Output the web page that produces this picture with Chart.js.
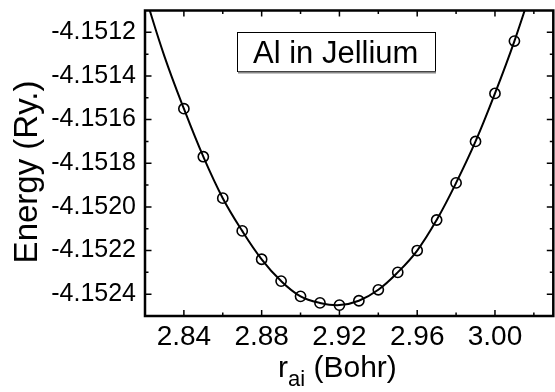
<!DOCTYPE html>
<html>
<head>
<meta charset="utf-8">
<script src="https://cdn.jsdelivr.net/npm/chart.js@4.4.0/dist/chart.umd.min.js"></script>
<style>
  html, body { margin: 0; padding: 0; overflow: hidden; background: #fff; }
  #chart { display: block; }
</style>
</head>
<body>
<canvas id="chart" width="560" height="392"></canvas>
<script>
// Computed points (circles)
const radii = [2.84, 2.85, 2.86, 2.87, 2.88, 2.89, 2.90, 2.91, 2.92,
               2.93, 2.94, 2.95, 2.96, 2.97, 2.98, 2.99, 3.00, 3.01];
const energies = [-4.15155, -4.15177, -4.15196, -4.15211, -4.15224, -4.15234,
                  -4.15241, -4.15244, -4.15245, -4.15243, -4.15238, -4.15230,
                  -4.15220, -4.15206, -4.15189, -4.15170, -4.15148, -4.15124];

// Fitted curve (solid line)
const fitRadii = [2.82, 2.83, 2.84, 2.85, 2.86, 2.87, 2.88, 2.89, 2.90, 2.91, 2.92,
                  2.93, 2.94, 2.95, 2.96, 2.97, 2.98, 2.99, 3.00, 3.01, 3.02];
const fitEnergies = [-4.15103, -4.15131, -4.15155, -4.15177, -4.15196, -4.15211,
                     -4.15224, -4.15234, -4.15241, -4.15244, -4.15245, -4.15243,
                     -4.15238, -4.15230, -4.15220, -4.15206, -4.15189, -4.15170,
                     -4.15148, -4.15124, -4.15097];

const xTicks = [2.84, 2.88, 2.92, 2.96, 3.00];
const yTicks = [-4.1524, -4.1522, -4.1520, -4.1518, -4.1516, -4.1514, -4.1512];

const FONT = '"Liberation Sans", Arial, sans-serif';

// Frame, inward ticks, label box and axis titles
const framePlugin = {
  id: 'frame',
  afterDraw(chart) {
    const ctx = chart.ctx;
    const area = chart.chartArea;
    const xs = chart.scales.x;
    const ys = chart.scales.y;
    ctx.save();
    ctx.strokeStyle = '#000';

    // ticks (major at labels, minor halfway)
    ctx.lineWidth = 1.5;
    const xStep = xTicks[1] - xTicks[0];
    const yStep = yTicks[1] - yTicks[0];
    ctx.beginPath();
    for (let v = xTicks[0] - xStep / 2; v < xs.max; v += xStep / 2) {
      const px = xs.getPixelForValue(v);
      if (px <= area.left + 1 || px >= area.right - 1) continue;
      const major = xTicks.some(t => Math.abs(t - v) < 1e-6);
      const len = major ? 6 : 3.5;
      ctx.moveTo(px, area.bottom); ctx.lineTo(px, area.bottom - len);
      ctx.moveTo(px, area.top); ctx.lineTo(px, area.top + len);
    }
    for (let v = yTicks[0] - yStep / 2; v < ys.max; v += yStep / 2) {
      const py = ys.getPixelForValue(v);
      if (py <= area.top + 1 || py >= area.bottom - 1) continue;
      const major = yTicks.some(t => Math.abs(t - v) < 1e-7);
      const len = major ? 6.5 : 3.5;
      ctx.moveTo(area.left, py); ctx.lineTo(area.left + len, py);
      ctx.moveTo(area.right, py); ctx.lineTo(area.right - len, py);
    }
    ctx.stroke();

    // frame
    ctx.lineWidth = 2.5;
    ctx.strokeRect(area.left, area.top, area.right - area.left, area.bottom - area.top);

    // "Al in Jellium" label box
    const bx0 = xs.getPixelForValue(2.8673);
    const bx1 = xs.getPixelForValue(2.9689);
    const by0 = ys.getPixelForValue(-4.1512);
    const by1 = ys.getPixelForValue(-4.151377);
    ctx.fillStyle = '#fff';
    ctx.fillRect(bx0, by0, bx1 - bx0, by1 - by0);
    ctx.lineWidth = 1;
    ctx.strokeRect(Math.round(bx0) + 0.5, Math.round(by0) + 0.5,
                   Math.round(bx1 - bx0), Math.round(by1 - by0));
    ctx.strokeStyle = '#888';
    ctx.lineWidth = 2;
    ctx.beginPath();
    ctx.moveTo(Math.round(bx0) + 1, Math.round(by1) + 1.5);
    ctx.lineTo(Math.round(bx1) + 1, Math.round(by1) + 1.5);
    ctx.stroke();
    ctx.fillStyle = '#000';
    ctx.font = '31px ' + FONT;
    ctx.textAlign = 'center';
    ctx.textBaseline = 'alphabetic';
    ctx.fillText('Al in Jellium', (bx0 + bx1) / 2, by0 + 31);

    // x title: r_ai (Bohr)
    ctx.textAlign = 'left';
    ctx.font = '30px ' + FONT;
    let tx = 278;
    const base = 377;
    ctx.fillText('r', tx, base);
    tx += ctx.measureText('r').width;
    ctx.font = '22px ' + FONT;
    ctx.fillText('ai', tx, base + 9);
    tx += ctx.measureText('ai').width;
    ctx.font = '30px ' + FONT;
    ctx.fillText(' (Bohr)', tx, base);

    // y title
    ctx.font = '33px ' + FONT;
    ctx.translate(37, 172);
    ctx.rotate(-Math.PI / 2);
    ctx.textAlign = 'center';
    ctx.fillText('Energy (Ry.)', 0, 0);
    ctx.restore();
  }
};

new Chart(document.getElementById('chart'), {
  type: 'scatter',
  data: {
    datasets: [{
      label: 'fit',
      type: 'line',
      data: fitRadii.map((r, i) => ({ x: r, y: fitEnergies[i] })),
      borderColor: '#000',
      borderWidth: 2,
      pointRadius: 0,
      tension: 0.4,
      fill: false
    }, {
      label: 'calc',
      data: radii.map((r, i) => ({ x: r, y: energies[i] })),
      borderColor: '#000',
      backgroundColor: 'rgba(0,0,0,0)',
      borderWidth: 1.6,
      pointRadius: 5.1,
      pointStyle: 'circle'
    }]
  },
  options: {
    responsive: false,
    animation: false,
    layout: { padding: { top: 10.5, right: 2.5, left: 0, bottom: 0 } },
    plugins: {
      legend: { display: false },
      tooltip: { enabled: false }
    },
    scales: {
      x: {
        type: 'linear',
        min: 2.82,
        max: 3.03,
        grid: { display: false, drawTicks: false },
        border: { display: false },
        afterBuildTicks: scale => { scale.ticks = xTicks.map(v => ({ value: v })); },
        afterFit: scale => {
          scale.height = 76;
          scale.paddingLeft = 0;
          scale.paddingRight = 0;
        },
        ticks: {
          color: '#000',
          padding: 4,
          maxRotation: 0,
          font: { family: FONT, size: 28 },
          callback: v => Number(v).toFixed(2)
        }
      },
      y: {
        type: 'linear',
        min: -4.1525,
        max: -4.1511,
        grid: { display: false, drawTicks: false },
        border: { display: false },
        afterBuildTicks: scale => { scale.ticks = yTicks.map(v => ({ value: v })); },
        afterFit: scale => {
          scale.width = 145;
          scale.paddingTop = 0;
          scale.paddingBottom = 0;
        },
        ticks: {
          color: '#000',
          padding: 9,
          font: { family: FONT, size: 25 },
          callback: v => Number(v).toFixed(4)
        }
      }
    }
  },
  plugins: [framePlugin]
});
</script>
</body>
</html>
